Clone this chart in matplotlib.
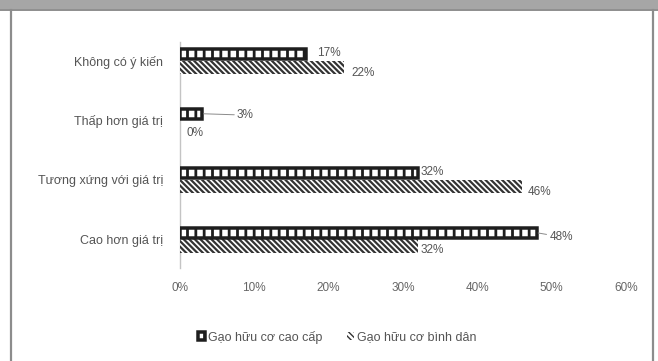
import matplotlib
matplotlib.use("Agg")
import matplotlib.pyplot as plt
from matplotlib.patches import Rectangle
from matplotlib.lines import Line2D

# ── Data ──
categories = ["Cao hơn giá trị", "Tương xứng với giá trị", "Thấp hơn giá trị", "Không có ý kiến"]
cao_cap = [0.48, 0.32, 0.03, 0.17]      # Gạo hữu cơ cao cấp
binh_dan = [0.32, 0.46, 0.00, 0.22]     # Gạo hữu cơ bình dân
series_names = ["Gạo hữu cơ cao cấp", "Gạo hữu cơ bình dân"]
xticks = [0, 0.1, 0.2, 0.3, 0.4, 0.5, 0.6]

# label offsets (points) from bar end: (dx, dy)
off_cc = [(9, -3), (2, 1), (25, -1), (8, 1)]
off_bd = [(2, -3), (4, -4), (5, -4), (6, -4)]

plt.rcParams["font.family"] = ["Liberation Sans", "DejaVu Sans"]
TXT = "#555555"
W, H = 658, 361

fig = plt.figure(figsize=(W / 100, H / 100), dpi=100, facecolor="white")

# ── Frame: grey band on top, side rules ──
fig.patches.append(Rectangle((0, 1 - 9 / H), 1, 9 / H, transform=fig.transFigure,
                             facecolor="#a6a6a6", edgecolor="none", zorder=0))
fig.add_artist(Line2D([0, 1], [1 - 10 / H] * 2, color="#7a7a7a", lw=1.2))
fig.add_artist(Line2D([10.5 / W] * 2, [0, 1 - 10 / H], color="#8c8c8c", lw=1.6))
fig.add_artist(Line2D([652.5 / W] * 2, [0, 1 - 10 / H], color="#8c8c8c", lw=1.6))

ax_l, ax_r, ax_t, ax_b = 180, 626, 42, 268
ax = fig.add_axes([ax_l / W, 1 - ax_b / H, (ax_r - ax_l) / W, (ax_b - ax_t) / H])

y = list(range(len(categories)))
h = 0.227
y_cc = [v + h / 2 for v in y]
y_bd = [v - h / 2 for v in y]

# checker-like bars: dark outline + thick vertical hatch -> row of white squares
edge_px = 3.5
h_cc = h - edge_px / 59.5
with plt.rc_context({"hatch.linewidth": 2.0, "hatch.color": "#1e1e1e"}):
    b1 = ax.barh(y_cc, cao_cap, height=h_cc, color="white", edgecolor="#1e1e1e",
                 hatch="||", linewidth=edge_px * 0.72, label=series_names[0], zorder=3)
with plt.rc_context({"hatch.linewidth": 1.6, "hatch.color": "#333333"}):
    b2 = ax.barh(y_bd, binh_dan, height=h, color="white", edgecolor="#333333",
                 hatch="\\\\\\\\\\\\", linewidth=0, label=series_names[1], zorder=2)

def label(vals, ys, offs):
    for v, yy, (dx, dy) in zip(vals, ys, offs):
        arrow = None
        if dx > 8:
            arrow = dict(arrowstyle="-", color="#8a8a8a", lw=0.7, shrinkA=0, shrinkB=1)
        ax.annotate(f"{v:.0%}", xy=(v, yy), xytext=(dx, dy), textcoords="offset points",
                    ha="left", va="center", fontsize=8.5, color=TXT, arrowprops=arrow)

label(cao_cap, y_cc, off_cc)
label(binh_dan, y_bd, off_bd)

ax.set_xlim(0, 0.6)
ax.set_ylim(-0.479, 3.319)
ax.set_xticks(xticks)
ax.set_xticklabels([f"{t:.0%}" for t in xticks])
ax.set_yticks(y)
ax.set_yticklabels(categories)
ax.tick_params(axis="x", length=0, pad=10, labelsize=8.5, labelcolor="#666666")
ax.tick_params(axis="y", length=0, pad=12, labelsize=9, labelcolor=TXT)
for s in ["top", "right", "bottom"]:
    ax.spines[s].set_visible(False)
ax.spines["left"].set_color("#c4c4c4")
ax.spines["left"].set_linewidth(1.0)
ax.spines["left"].set_zorder(1)
ax.set_facecolor("none")

fig.legend(handles=[b1, b2], loc="center", bbox_to_anchor=(337 / W, 1 - 337 / H),
           ncol=2, frameon=False, fontsize=9, labelcolor=TXT,
           handlelength=0.6, handleheight=0.6, handletextpad=0.2, columnspacing=2.0)

fig.savefig("out.png", dpi=100, facecolor="white")
